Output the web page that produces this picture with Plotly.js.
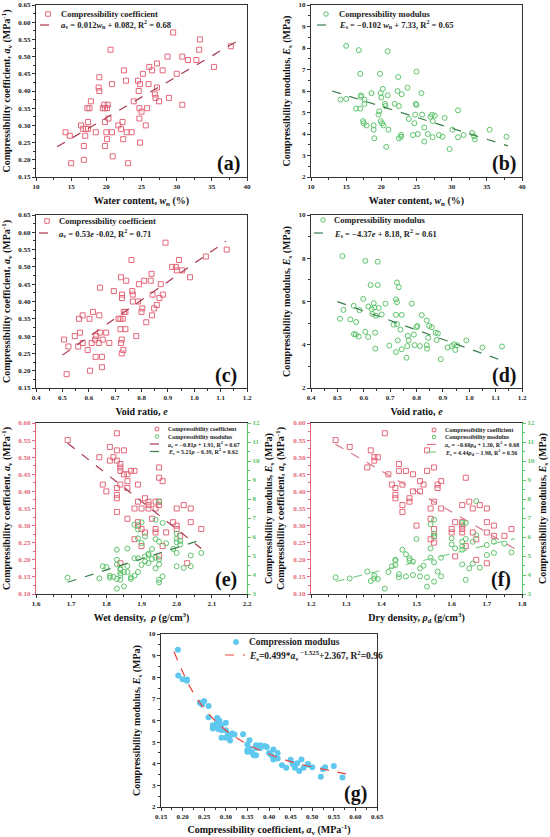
<!DOCTYPE html>
<html><head><meta charset="utf-8">
<script src="https://cdn.plot.ly/plotly-3.0.1.min.js"></script>
<style>html,body{margin:0;padding:0;background:#fff}#chart{width:550px;height:837px}</style>
</head><body><div id="chart"></div>
<script>
// ---------- Panel (a): water content vs compressibility coefficient ----------
const wA = [14.2,14.8,15.0,16.4,16.7,16.8,16.8,17.0,17.1,17.3,17.4,17.4,17.6,17.8,18.5,18.9,19.0,19.0,19.5,19.7,19.8,19.8,19.8,20.0,20.1,20.1,20.2,20.3,20.6,20.8,20.8,20.9,21.7,22.1,22.3,22.4,22.5,22.8,22.9,23.1,23.6,23.9,24.5,24.6,24.7,24.7,24.8,24.8,25.0,25.2,25.6,25.8,26.0,26.1,26.5,26.9,27.0,27.2,27.2,27.5,28.0,28.7,28.9,29.5,30.0,30.8,30.8,31.6,32.8,33.2,33.3,35.3,37.7];
const avA = [0.28,0.27,0.19,0.30,0.29,0.20,0.24,0.27,0.29,0.35,0.31,0.29,0.35,0.37,0.28,0.41,0.40,0.44,0.35,0.36,0.35,0.31,0.24,0.28,0.26,0.35,0.36,0.32,0.52,0.42,0.28,0.21,0.30,0.29,0.31,0.26,0.46,0.43,0.28,0.19,0.28,0.37,0.43,0.40,0.35,0.32,0.25,0.42,0.34,0.45,0.30,0.35,0.42,0.47,0.46,0.39,0.38,0.41,0.48,0.37,0.46,0.50,0.38,0.57,0.45,0.36,0.50,0.49,0.49,0.52,0.55,0.47,0.53];
const fitAx = [13, 39];
const fitAy = [0.238, 0.550];

// ---------- Panel (b): water content vs compressibility modulus ----------
const wB = [14.2,15.0,15.0,16.4,16.8,17.0,17.0,17.1,17.1,17.4,17.5,17.6,17.6,17.9,18.6,18.9,18.9,19.0,19.6,19.7,19.8,19.9,20.0,19.9,20.1,20.2,20.3,20.5,20.6,20.7,20.9,20.9,21.0,21.9,22.3,22.4,22.5,22.5,22.8,22.8,22.9,23.7,23.9,24.5,24.7,24.8,24.9,25.0,25.0,25.2,25.7,25.8,26.1,26.1,26.6,27.0,27.2,27.3,27.3,27.6,28.2,28.7,29.0,29.7,30.1,30.9,30.9,31.7,32.9,33.2,33.3,35.4,37.8];
const esB = [5.60,5.63,8.10,5.18,7.90,6.80,5.18,5.73,5.80,4.60,4.50,5.60,5.40,4.40,5.90,4.20,4.40,3.80,4.90,5.05,6.80,5.90,5.70,4.60,4.50,6.10,4.40,5.40,5.30,3.40,7.85,5.80,4.20,5.40,6.00,6.65,5.30,3.80,3.87,3.95,5.85,6.15,4.70,3.95,4.50,4.90,5.40,6.90,5.35,4.00,5.90,4.90,4.30,3.65,4.00,4.80,4.90,4.60,3.85,4.85,3.95,3.87,4.75,3.30,4.20,3.85,5.10,3.95,4.05,3.90,3.75,4.20,3.87];
const fitBx = [13, 38];
const fitBy = [6.00, 3.45];

// ---------- Panel (c): void ratio vs compressibility coefficient ----------
const eC = [0.506,0.516,0.523,0.547,0.560,0.563,0.567,0.577,0.577,0.596,0.603,0.605,0.611,0.616,0.624,0.626,0.628,0.638,0.640,0.642,0.643,0.650,0.650,0.653,0.666,0.678,0.695,0.713,0.720,0.720,0.722,0.722,0.725,0.725,0.726,0.726,0.729,0.731,0.733,0.739,0.739,0.742,0.762,0.765,0.767,0.767,0.780,0.787,0.790,0.800,0.803,0.810,0.818,0.835,0.838,0.840,0.842,0.848,0.858,0.868,0.873,0.881,0.891,0.916,0.930,0.934,0.942,0.954,0.984,1.044,1.123];
const avC = [0.29,0.19,0.27,0.30,0.27,0.35,0.31,0.28,0.36,0.26,0.35,0.20,0.28,0.37,0.29,0.24,0.30,0.28,0.36,0.31,0.44,0.24,0.21,0.29,0.31,0.28,0.43,0.35,0.35,0.32,0.47,0.28,0.29,0.25,0.42,0.41,0.35,0.26,0.37,0.37,0.32,0.46,0.52,0.43,0.42,0.40,0.30,0.40,0.45,0.37,0.38,0.46,0.34,0.46,0.48,0.36,0.42,0.38,0.39,0.41,0.45,0.42,0.57,0.50,0.50,0.49,0.52,0.49,0.47,0.53,0.55];
const fitCx = [0.50, 1.12];
const fitCy = [0.245, 0.574];

// ---------- Panel (d): void ratio vs compressibility modulus ----------
const eD = [0.510,0.519,0.523,0.549,0.562,0.563,0.570,0.571,0.581,0.584,0.598,0.606,0.606,0.617,0.617,0.626,0.630,0.633,0.638,0.640,0.643,0.644,0.646,0.653,0.653,0.657,0.668,0.682,0.697,0.713,0.722,0.722,0.722,0.726,0.726,0.726,0.729,0.733,0.739,0.744,0.744,0.762,0.765,0.767,0.770,0.782,0.790,0.793,0.800,0.803,0.813,0.820,0.839,0.839,0.840,0.844,0.848,0.858,0.873,0.876,0.881,0.892,0.918,0.934,0.942,0.947,0.954,0.989,1.050,1.124];
const esD = [5.20,8.10,5.61,5.17,5.80,4.49,4.47,5.05,4.38,5.60,6.12,4.60,7.88,4.36,5.77,6.76,5.65,5.42,5.92,5.72,4.56,3.82,5.34,6.76,7.84,5.70,5.40,5.90,3.96,4.93,6.10,3.66,5.38,6.88,5.97,4.96,4.20,6.66,4.70,3.79,5.38,3.40,3.94,4.41,4.20,5.90,4.47,3.98,4.81,4.87,3.94,5.37,5.12,3.98,3.82,4.32,4.87,4.81,4.56,4.22,4.52,3.33,3.87,3.94,4.02,3.76,3.98,4.20,3.87,3.92];
const fitDx = [0.50, 1.12];
const fitDy = [5.995, 3.29];

// ---------- Panel (e): wet density ----------
const rhoEa = [1.69,1.78,1.79,1.80,1.81,1.81,1.82,1.83,1.83,1.83,1.83,1.83,1.83,1.83,1.84,1.84,1.84,1.84,1.84,1.85,1.85,1.86,1.86,1.86,1.86,1.87,1.88,1.88,1.88,1.89,1.89,1.89,1.89,1.90,1.90,1.90,1.91,1.91,1.92,1.92,1.92,1.93,1.94,1.94,1.94,1.94,1.95,1.95,1.95,1.95,1.95,1.96,1.96,1.97,1.99,2.00,2.00,2.00,2.01,2.02,2.03,2.04,2.04,2.07];
const avE = [0.55,0.50,0.42,0.40,0.53,0.49,0.50,0.52,0.57,0.49,0.41,0.39,0.38,0.34,0.48,0.47,0.46,0.42,0.19,0.52,0.45,0.45,0.43,0.41,0.32,0.46,0.46,0.35,0.26,0.42,0.37,0.31,0.30,0.35,0.29,0.24,0.38,0.28,0.37,0.36,0.35,0.32,0.37,0.35,0.29,0.28,0.36,0.37,0.47,0.44,0.21,0.43,0.24,0.28,0.31,0.30,0.35,0.29,0.27,0.36,0.19,0.35,0.31,0.29];
const rhoEs = [1.69,1.78,1.79,1.80,1.81,1.81,1.82,1.83,1.83,1.83,1.83,1.83,1.84,1.84,1.84,1.84,1.84,1.85,1.85,1.86,1.86,1.86,1.87,1.87,1.88,1.88,1.88,1.89,1.89,1.89,1.89,1.90,1.90,1.90,1.91,1.91,1.91,1.92,1.92,1.92,1.93,1.93,1.94,1.94,1.94,1.94,1.95,1.95,1.95,1.95,1.95,1.95,1.96,1.96,1.97,1.99,2.00,2.00,2.00,2.00,2.00,2.01,2.01,2.02,2.04,2.04,2.07];
const esE = [3.86,3.82,4.46,4.42,3.96,3.86,3.90,3.79,5.33,4.80,4.56,3.28,4.10,3.75,4.28,3.98,4.32,3.40,4.16,4.47,5.39,4.16,3.79,3.88,4.88,6.65,3.96,6.39,5.93,4.16,4.88,6.77,5.68,4.53,6.03,4.98,4.72,5.12,4.63,5.05,5.37,4.84,6.91,5.89,4.91,4.35,4.82,4.56,3.75,3.61,7.86,5.75,6.74,3.93,5.67,5.37,5.72,6.18,5.91,4.46,5.16,5.79,5.61,4.37,5.03,4.46,5.16];
const fitEax = [1.69, 2.07];
const fitEay = [0.541, 0.233];
const fitEsx = [1.69, 2.07];
const fitEsy = [3.62, 5.85];

// ---------- Panel (f): dry density ----------
const rhoFa = [1.27,1.31,1.36,1.37,1.38,1.38,1.39,1.41,1.42,1.43,1.44,1.44,1.44,1.45,1.45,1.46,1.46,1.46,1.47,1.48,1.48,1.49,1.49,1.50,1.51,1.51,1.52,1.53,1.53,1.54,1.54,1.54,1.55,1.55,1.55,1.55,1.55,1.56,1.56,1.57,1.57,1.60,1.60,1.61,1.61,1.63,1.63,1.63,1.63,1.63,1.64,1.64,1.65,1.66,1.66,1.67,1.67,1.68,1.70,1.70,1.70,1.70,1.72,1.72,1.75,1.77];
const avF = [0.55,0.53,0.47,0.52,0.49,0.50,0.50,0.57,0.45,0.42,0.41,0.39,0.38,0.48,0.46,0.36,0.34,0.42,0.46,0.37,0.38,0.45,0.40,0.30,0.43,0.40,0.42,0.52,0.46,0.35,0.32,0.26,0.47,0.37,0.29,0.27,0.25,0.42,0.41,0.43,0.35,0.29,0.28,0.21,0.31,0.36,0.31,0.30,0.29,0.28,0.44,0.24,0.37,0.28,0.35,0.26,0.20,0.36,0.35,0.31,0.28,0.19,0.30,0.27,0.27,0.29];
const rhoFs = [1.27,1.31,1.36,1.37,1.38,1.38,1.39,1.41,1.42,1.43,1.44,1.44,1.44,1.45,1.45,1.46,1.47,1.47,1.48,1.48,1.49,1.49,1.50,1.51,1.51,1.52,1.53,1.53,1.54,1.54,1.54,1.55,1.55,1.55,1.55,1.55,1.56,1.57,1.57,1.60,1.60,1.61,1.63,1.63,1.63,1.63,1.63,1.64,1.64,1.64,1.65,1.66,1.66,1.67,1.67,1.68,1.70,1.70,1.72,1.72,1.75,1.77];
const esF = [3.88,3.82,4.18,3.68,3.96,3.82,3.79,3.28,4.16,4.46,4.53,4.80,4.77,4.04,3.88,5.33,5.09,3.93,4.88,4.77,4.70,4.00,5.89,4.35,3.93,4.49,3.88,3.39,6.67,5.40,4.91,6.91,6.03,6.18,4.67,3.65,4.18,4.91,3.93,5.93,5.61,5.40,6.74,5.75,5.51,5.33,4.56,5.89,6.74,3.75,4.35,4.60,5.75,7.89,6.10,4.39,5.58,5.05,5.75,5.16,5.65,5.19];
const fitFax = [1.27, 1.78];
const fitFay = [0.538, 0.232];
const fitFsx = [1.27, 1.78];
const fitFsy = [3.66, 5.92];

// ---------- Panel (g): compressibility coefficient vs modulus ----------
const avG = [0.189,0.19,0.20,0.21,0.21,0.24,0.245,0.25,0.26,0.26,0.27,0.27,0.28,0.28,0.28,0.28,0.283,0.285,0.29,0.29,0.29,0.30,0.30,0.30,0.305,0.31,0.31,0.315,0.32,0.34,0.35,0.35,0.35,0.355,0.355,0.36,0.365,0.37,0.37,0.37,0.38,0.38,0.39,0.395,0.40,0.405,0.41,0.41,0.415,0.42,0.42,0.43,0.44,0.45,0.455,0.46,0.46,0.465,0.47,0.475,0.48,0.49,0.49,0.50,0.52,0.525,0.53,0.55,0.57];
const esG = [9.27,8.08,7.91,7.90,7.84,6.82,6.74,6.90,6.67,6.15,5.78,5.63,5.85,6.12,5.66,5.90,5.60,6.00,5.55,5.20,5.78,5.90,5.20,5.55,5.35,5.07,5.32,5.40,5.35,5.36,4.89,4.63,4.55,4.70,5.09,4.52,4.39,4.86,4.39,4.73,4.86,4.73,4.82,4.78,4.50,4.39,4.66,4.20,4.27,4.50,4.24,3.93,3.81,4.18,3.99,3.93,3.81,4.02,3.66,4.20,3.82,3.99,3.95,3.84,3.40,3.74,3.84,3.90,3.36];
const fitGx = [0.18,0.20,0.22,0.25,0.28,0.30,0.35,0.40,0.45,0.50,0.55,0.59];
const fitGy = [9.19,8.25,7.45,6.55,5.90,5.55,4.90,4.45,4.10,3.85,3.65,3.48];

// ---------- text ----------
const FONT = 'Liberation Serif, "Times New Roman", serif';
const AV = '<i>a</i><sub>v</sub>';
const ES = '<i>E</i><sub>s</sub>';
const tYav = 'Compressibility coefficient, ' + AV + ' (MPa<sup>-1</sup>)';
const tYes = 'Compressibility modulus, ' + ES + ' (MPa)';
const tXw = 'Water content, <i>w</i><sub>n</sub> (%)';
const tXe = 'Void ratio, <i>e</i>';
const tXrho = 'Wet density,  <i>ρ</i> (g/cm<sup>3</sup>)';
const tXrhod = 'Dry density, <i>ρ</i><sub>d</sub> (g/cm<sup>3</sup>)';
const tXavG = 'Compressibility coefficient, ' + AV + ' (MPa<sup>-1</sup>)';
const legCoef = 'Compressibility coefficient';
const legMod = 'Compressibility modulus';
const legA = AV + ' = 0.012<i>w</i><sub>n</sub> + 0.082, R<sup>2</sup> = 0.68';
const legB = ES + ' = −0.102 <i>w</i><sub>n</sub> + 7.33, R<sup>2</sup> = 0.65';
const legC = AV + ' = 0.53<i>e</i> -0.02, R<sup>2</sup> = 0.71';
const legD = ES + ' = −4.37<i>e</i> + 8.18, R<sup>2</sup> = 0.61';
const legEa = AV + ' = −0.81<i>ρ</i> + 1.91, R<sup>2</sup> = 0.67';
const legEs = ES + ' = 5.21<i>ρ</i> − 6.39, R<sup>2</sup> = 0.62';
const legFa = AV + ' = −0.60<i>ρ</i><sub>d</sub> + 1.30, R<sup>2</sup> = 0.68';
const legFs = ES + ' = 4.44<i>ρ</i><sub>d</sub> − 1.98, R<sup>2</sup> = 0.56';
const legG1 = 'Compression modulus';
const legG2 = ES + '=0.499*' + AV + '<sup> −1.525</sup>+2.367, R<sup>2</sup>=0.96';

// ---------- styles ----------
const RED = '#e4687a', RED_LINE = '#a83a50';
const GRN = '#5cc46a', GRN_LINE = '#3b7d4b';
const RED_LINE_F = '#d9798a', GRN_LINE_F = '#7fcf8a';
const BLUE = '#5ec8ef', FIT_G = '#e8453c';

function sq(x, y, xa, ya, name) {
  return {x, y, xaxis: xa, yaxis: ya, type: 'scatter', mode: 'markers', name,
    marker: {symbol: 'square-open', size: 5, color: RED, line: {width: 1, color: RED}}};
}
function ci(x, y, xa, ya, name) {
  return {x, y, xaxis: xa, yaxis: ya, type: 'scatter', mode: 'markers', name,
    marker: {symbol: 'circle-open', size: 5, color: GRN, line: {width: 1, color: GRN}}};
}
function fit(x, y, xa, ya, name, color, shape) {
  return {x, y, xaxis: xa, yaxis: ya, type: 'scatter', mode: 'lines', name,
    line: {color, width: 1.2, dash: 'dash', shape: shape || 'linear'}};
}

const traces = [
  sq(wA, avA, 'x', 'y', legCoef),
  fit(fitAx, fitAy, 'x', 'y', legA, RED_LINE),
  ci(wB, esB, 'x2', 'y2', legMod),
  fit(fitBx, fitBy, 'x2', 'y2', legB, GRN_LINE),
  sq(eC, avC, 'x3', 'y3', legCoef),
  fit(fitCx, fitCy, 'x3', 'y3', legC, RED_LINE),
  ci(eD, esD, 'x4', 'y4', legMod),
  fit(fitDx, fitDy, 'x4', 'y4', legD, GRN_LINE),
  sq(rhoEa, avE, 'x5', 'y5', legCoef),
  ci(rhoEs, esE, 'x5', 'y6', legMod),
  fit(fitEax, fitEay, 'x5', 'y5', legEa, RED_LINE),
  fit(fitEsx, fitEsy, 'x5', 'y6', legEs, GRN_LINE),
  sq(rhoFa, avF, 'x6', 'y7', legCoef),
  ci(rhoFs, esF, 'x6', 'y8', legMod),
  fit(fitFax, fitFay, 'x6', 'y7', legFa, RED_LINE_F),
  fit(fitFsx, fitFsy, 'x6', 'y8', legFs, GRN_LINE_F),
  {x: avG, y: esG, xaxis: 'x7', yaxis: 'y9', type: 'scatter', mode: 'markers', name: legG1,
    marker: {symbol: 'circle', size: 6, color: BLUE}},
  fit(fitGx, fitGy, 'x7', 'y9', legG2, FIT_G, 'spline')
];

const W = 550, H = 837;
const PX = p => p / W, PY = p => (H - p) / H;
const colL = [PX(36), PX(247)], colR = [PX(311), PX(522)], colG = [PX(161), PX(377)];
const rowA = [PY(177), PY(5)];
const rowC = [PY(388), PY(215)];
const rowE = [PY(594), PY(423)];
const rowG = [PY(807), PY(634)];

function ax(domain, range, dtick, fmt, title, anchor, extra) {
  const o = {domain, range, dtick, tick0: range[0], tickformat: fmt, anchor,
    showline: true, linecolor: '#333', linewidth: 1, mirror: true,
    ticks: 'outside', ticklen: 3, tickwidth: 1, tickcolor: '#333',
    minor: {dtick: dtick / 2, ticklen: 2, tickcolor: '#333', ticks: 'outside'},
    showgrid: false, zeroline: false, fixedrange: true,
    tickfont: {family: FONT, size: 7, weight: 'bold', color: '#222'},
    title: {text: title, font: {family: FONT, size: 10, weight: 'bold', color: '#111'}, standoff: 6}};
  return Object.assign(o, extra || {});
}
const redAx = {linecolor: RED, tickcolor: RED, tickfont: {family: FONT, size: 7, weight: 'bold', color: RED}, mirror: false,
  minor: {dtick: 0.025, ticklen: 2, tickcolor: RED, ticks: 'outside'}};
const grnAx = {linecolor: GRN, tickcolor: GRN, tickfont: {family: FONT, size: 7, weight: 'bold', color: GRN}, mirror: false,
  minor: {dtick: 0.5, ticklen: 2, tickcolor: GRN, ticks: 'outside'}};

// ---------- hand-placed legend keys (pixel positions of the keys) ----------
const annotations = [];
const shapes = [];
function legText(x, y, text, size) {
  annotations.push({text, xref: 'paper', yref: 'paper', x: PX(x), y: PY(y), xanchor: 'left', yanchor: 'middle',
    showarrow: false, font: {family: FONT, size, weight: 'bold', color: '#222'}});
}
function keySq(cx, cy, s, color) {
  shapes.push({type: 'rect', xref: 'paper', yref: 'paper', x0: PX(cx - s/2), x1: PX(cx + s/2), y0: PY(cy + s/2), y1: PY(cy - s/2),
    line: {color, width: 1}, fillcolor: 'rgba(0,0,0,0)'});
}
function keyCi(cx, cy, s, color, fill) {
  shapes.push({type: 'circle', xref: 'paper', yref: 'paper', x0: PX(cx - s/2), x1: PX(cx + s/2), y0: PY(cy + s/2), y1: PY(cy - s/2),
    line: {color, width: 1}, fillcolor: fill ? color : 'rgba(0,0,0,0)'});
}
function keyLn(x0, x1, y, color) {
  shapes.push({type: 'line', xref: 'paper', yref: 'paper', x0: PX(x0), x1: PX(x1), y0: PY(y), y1: PY(y),
    line: {color, width: 1.2, dash: 'dash'}});
}
// (a)
keySq(48, 14, 4.5, RED); legText(59, 14, legCoef, 8.5);
keyLn(40, 57, 25, RED_LINE); legText(59, 25, legA, 8.5);
// (b)
keyCi(326, 14, 4.5, GRN); legText(337, 14, legMod, 8.5);
keyLn(317, 334, 25, GRN_LINE); legText(337, 25, legB, 8.5);
// (c)
keySq(47, 221, 4.5, RED); legText(57, 221, legCoef, 8.5);
keyLn(39, 55, 233, RED_LINE); legText(57, 233, legC, 8.5);
// (d)
keyCi(323, 220, 4.5, GRN); legText(332, 220, legMod, 8.5);
keyLn(314, 330, 233, GRN_LINE); legText(332, 233, legD, 8.5);
// (e)
keySq(157, 429, 3.5, RED); legText(166, 429, legCoef, 6);
keyCi(157, 436.5, 3.5, GRN); legText(166, 436.5, legMod, 6);
keyLn(150, 163, 444, RED_LINE); legText(166, 444, legEa, 6);
keyLn(150, 163, 451.5, GRN_LINE); legText(166, 451.5, legEs, 6);
// (f)
keySq(434, 430, 3.5, RED); legText(443, 430, legCoef, 6);
keyCi(434, 437, 3.5, GRN); legText(443, 437, legMod, 6);
keyLn(427, 441, 444.5, RED_LINE_F); legText(443, 444.5, legFa, 6);
keyLn(427, 441, 452, GRN_LINE_F); legText(443, 452, legFs, 6);
// (g)
keyCi(236, 642, 5, BLUE, true); legText(247, 642, legG1, 9.5);
keyLn(225, 245, 655, FIT_G); legText(247, 655, legG2, 9.5);

// ---------- panel letters ----------
[
  ['(a)', 'x', 'y', 37.4, 0.19], ['(b)', 'x2', 'y2', 37.4, 2.62],
  ['(c)', 'x3', 'y3', 1.12, 0.187], ['(d)', 'x4', 'y4', 1.13, 2.56],
  ['(e)', 'x5', 'y5', 2.14, 0.142], ['(f)', 'x6', 'y7', 1.74, 0.142],
  ['(g)', 'x7', 'y9', 0.60, 2.62]
].forEach(([t, xr, yr, x, y]) => annotations.push({text: t, xref: xr, yref: yr, x, y, showarrow: false,
  xanchor: 'center', yanchor: 'middle', font: {family: FONT, size: 20, weight: 'bold', color: '#111'}}));

const layout = {
  width: W, height: H, margin: {l: 0, r: 0, t: 0, b: 0},
  paper_bgcolor: '#fff', plot_bgcolor: '#fff',
  font: {family: FONT, size: 8, color: '#222'},
  showlegend: false,
  xaxis: ax(colL, [10, 40], 5, 'd', tXw, 'y'),
  yaxis: ax(rowA, [0.15, 0.65], 0.05, '.2f', tYav, 'x'),
  xaxis2: ax(colR, [10, 40], 5, 'd', tXw, 'y2'),
  yaxis2: ax(rowA, [2, 10], 1, 'd', tYes, 'x2'),
  xaxis3: ax(colL, [0.4, 1.2], 0.1, '.1f', tXe, 'y3'),
  yaxis3: ax(rowC, [0.15, 0.65], 0.05, '.2f', tYav, 'x3'),
  xaxis4: ax(colR, [0.4, 1.2], 0.1, '.1f', tXe, 'y4'),
  yaxis4: ax(rowC, [2, 10], 2, 'd', tYes, 'x4'),
  xaxis5: ax(colL, [1.6, 2.2], 0.1, '.1f', tXrho, 'y5'),
  yaxis5: ax(rowE, [0.10, 0.60], 0.05, '.2f', tYav, 'x5', redAx),
  yaxis6: ax(rowE, [3, 12], 1, 'd', tYes, 'x5', Object.assign({overlaying: 'y5', side: 'right'}, grnAx)),
  xaxis6: ax(colR, [1.2, 1.8], 0.1, '.1f', tXrhod, 'y7'),
  yaxis7: ax(rowE, [0.10, 0.60], 0.05, '.2f', tYav, 'x6', redAx),
  yaxis8: ax(rowE, [3, 12], 1, 'd', tYes, 'x6', Object.assign({overlaying: 'y7', side: 'right'}, grnAx)),
  xaxis7: ax(colG, [0.15, 0.65], 0.05, '.2f', tXavG, 'y9'),
  yaxis9: ax(rowG, [2, 10], 1, 'd', tYes, 'x7'),
  annotations, shapes
};

Plotly.newPlot('chart', traces, layout, {displayModeBar: false, staticPlot: true});
</script></body></html>
